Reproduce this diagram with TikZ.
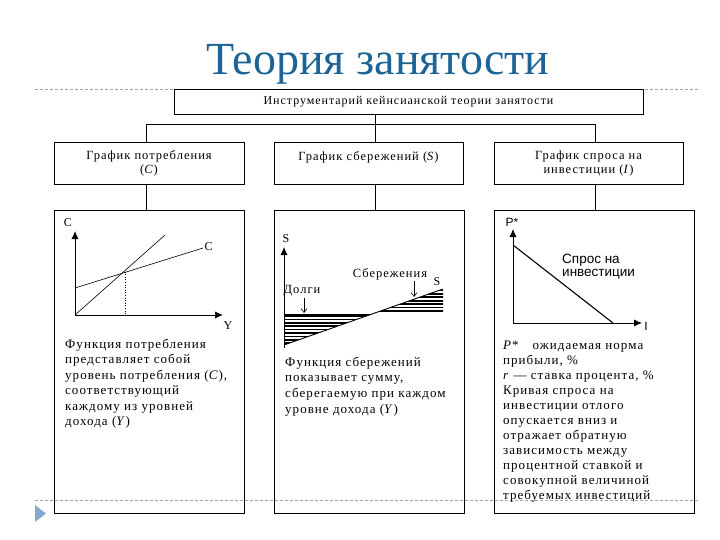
\documentclass[tikz,border=0pt]{standalone}
\usepackage{fontspec}
\setmainfont{Liberation Serif}
\newfontfamily\sansf{Liberation Sans}
\newfontfamily\spc{Liberation Serif}[LetterSpace=8]
\usetikzlibrary{arrows.meta}
\definecolor{titleblue}{RGB}{28,100,150}
\definecolor{dashgray}{RGB}{165,165,165}
\definecolor{bulletblue}{RGB}{130,170,210}
\begin{document}
\begin{tikzpicture}[x=1pt,y=-1pt,
  frame/.style={draw, line width=0.9pt, inner sep=0pt},
  hdr/.style={frame, align=center, font=\spc\fontsize{12.5}{14}\selectfont},
  axisar/.style={line width=0.8pt, -{Latex[length=8pt,width=7pt]}},
  thinline/.style={line width=0.6pt},
  lbl/.style={inner sep=0pt, font=\fontsize{12}{14}\selectfont},
  slbl/.style={inner sep=0pt, font=\sansf\fontsize{12}{14}\selectfont},
  body/.style={inner sep=0pt, anchor=base west, font=\spc\fontsize{13}{15}\selectfont},
  smallar/.style={line width=0.6pt, -{Straight Barb[length=4pt,width=6pt]}},
  hatch/.style={line width=1.7pt}]
\useasboundingbox (0,0) rectangle (720,540);
% dashed guide lines and bullet
\draw[dashgray, line width=0.6pt, dash pattern=on 3pt off 2pt] (35,89) -- (700,89);
\draw[dashgray, line width=0.6pt, dash pattern=on 3pt off 2pt] (35,500) -- (700,500);
\fill[bulletblue] (35,505) -- (46,513.5) -- (35,522) -- cycle;
% title
\node[inner sep=0pt, anchor=base, text=titleblue, font=\fontsize{46}{50}\selectfont] (title) at (378,75) {Теория занятости};
% boxes
\node[frame, minimum width=469pt, minimum height=25pt, font=\spc\fontsize{12}{13}\selectfont] (top) at (408.5,101.5) {Инструментарий кейнсианской теории занятости};
\node[hdr, minimum width=190pt, minimum height=42pt] (b1) at (149,163) {График потребления\\(\textit{C})};
\node[hdr, minimum width=189pt, minimum height=42pt] (b2) at (368.5,163) {График сбережений (\textit{S})\\\mbox{}};
\node[hdr, minimum width=189pt, minimum height=42pt] (b3) at (588.5,163) {График спроса на\\инвестиции (\textit{I})};
\node[frame, minimum width=190pt, minimum height=303pt] (g1) at (149,361.5) {};
\node[frame, minimum width=190pt, minimum height=303pt] (g2) at (369,361.5) {};
\node[frame, minimum width=200pt, minimum height=303pt] (g3) at (594,361.5) {};
% connectors
\coordinate (c1) at (146,124);
\coordinate (c2) at (375,124);
\coordinate (c3) at (595,124);
\draw[line width=0.9pt] (top.south -| c2) -- (c2);
\draw[line width=0.9pt] (c1) -- (c3);
\draw[line width=0.9pt] (c1) -- (b1.north -| c1);
\draw[line width=0.9pt] (c2) -- (b2.north -| c2);
\draw[line width=0.9pt] (c3) -- (b3.north -| c3);
\draw[line width=0.9pt] (b1.south -| c1) -- (g1.north -| c1);
\draw[line width=0.9pt] (b2.south -| c2) -- (g2.north -| c2);
\draw[line width=0.9pt] (b3.south -| c3) -- (g3.north -| c3);
% graph 1: consumption
\coordinate (o1) at (75,315);
\draw[axisar] (o1) -- (75,231);
\draw[axisar] (o1) -- (223,315);
\draw[thinline] (o1) -- (165,235);
\draw[thinline] (75,288) -- (203,248);
\draw[thinline, dotted] (125,271.5) -- (125,315);
\node[lbl] (gC) at (68,223) {C};
\node[lbl] (gY) at (228,326) {Y};
\node[lbl] (gCc) at (208.5,247) {C};
% graph 2: savings
\begin{scope}
\clip (284,314) -- (372,314) -- (284,345) -- cycle;
\foreach \yy in {316,319.4,...,346} \draw[hatch] (280,\yy) -- (380,\yy);
\end{scope}
\begin{scope}
\clip (372,314) -- (443,289) -- (443,314) -- cycle;
\foreach \yy in {290.5,293.9,...,314} \draw[hatch] (365,\yy) -- (445,\yy);
\end{scope}
\draw[axisar] (284,348) -- (284,247);
\draw[thinline] (284,314) -- (372,314);
\draw[line width=0.9pt] (284,345) -- (443,289);
\node[lbl] (gS) at (286,239) {S};
\node[lbl] (gSs) at (437,282) {S};
\node[lbl, font=\spc\fontsize{12.5}{14}\selectfont] (sav) at (390,274) {Сбережения};
\node[lbl, font=\spc\fontsize{12.5}{14}\selectfont] (debt) at (302,291) {Долги};
\coordinate (savp) at (414,297);
\coordinate (debtp) at (304,313);
\draw[smallar] (sav.south -| savp) ++(0,1) -- (savp);
\draw[smallar] (debt.south -| debtp) ++(0,1) -- (debtp);
% graph 3: investment demand
\coordinate (o3) at (513,323);
\draw[axisar] (o3) -- (513,229);
\draw[axisar] (o3) -- (642,323);
\draw[line width=1.1pt] (513,245) -- (613,323);
\node[slbl] (gP) at (512,222) {P*};
\node[slbl] (gI) at (646,326) {I};
\node[slbl, anchor=west, align=left, font=\sansf\fontsize{13.5}{13}\selectfont] (dem) at (562,266.5) {Спрос на\\инвестиции};
% body texts
\foreach \t [count=\i] in {Функция потребления, представляет собой, {уровень потребления (\textit{C}),}, соответствующий, каждому из уровней, дохода (\textit{Y})}
  \node[body] (ta\i) at (65,{348+15.5*(\i-1)}) {\t};
\foreach \t [count=\i] in {Функция сбережений, {показывает сумму,}, сберегаемую при каждом, уровне дохода (\textit{Y})}
  \node[body] (tb\i) at (285,{366+15.7*(\i-1)}) {\t};
\foreach \t [count=\i] in {\textit{P}*\hspace{14pt}ожидаемая норма, {прибыли, \%}, {\textit{r} — ставка процента, \%}, Кривая спроса на, инвестиции отлого, опускается вниз и, отражает обратную, зависимость между, процентной ставкой и, совокупной величиной, требуемых инвестиций}
  \node[body] (tc\i) at (503,{349+15*(\i-1)}) {\t};
\end{tikzpicture}
\end{document}
